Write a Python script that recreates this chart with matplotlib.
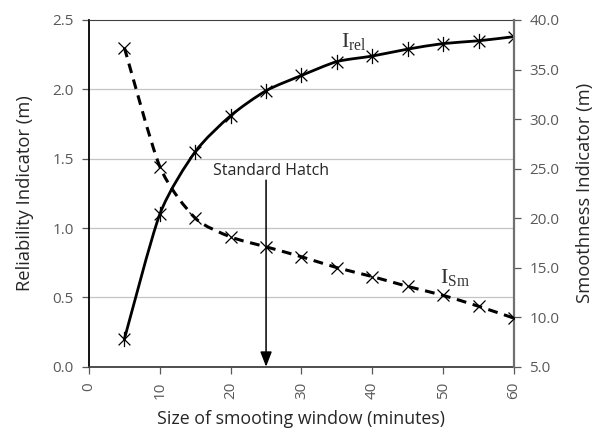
import numpy as np
import matplotlib
matplotlib.use("Agg")
import matplotlib.pyplot as plt
from matplotlib.path import Path
from matplotlib.patches import PathPatch

# Window sizes (minutes)
window = [5, 10, 15, 20, 25, 30, 35, 40, 45, 50, 55, 60]
# Reliability indicator I_rel (m), left axis
i_rel = [0.20, 1.10, 1.55, 1.81, 1.99, 2.10, 2.20, 2.24, 2.29, 2.33, 2.35, 2.38]
# Smoothness indicator I_Sm (m), right axis
i_sm = [37.2, 25.2, 20.0, 18.1, 17.1, 16.1, 15.0, 14.1, 13.1, 12.2, 11.1, 9.9]

x_ticks = [0, 10, 20, 30, 40, 50, 60]
left_ticks = [0.0, 0.5, 1.0, 1.5, 2.0, 2.5]
right_ticks = [5.0, 10.0, 15.0, 20.0, 25.0, 30.0, 35.0, 40.0]
standard_window = 25

FONT = "Open Sans"
TICK_COLOR = "#595959"


def smooth_path(x, y, tension=0.12):
    """Cubic Bezier path through the points (Catmull-Rom style smoothing)."""
    x = np.asarray(x, float)
    y = np.asarray(y, float)
    n = len(x)
    verts = [(x[0], y[0])]
    codes = [Path.MOVETO]
    for i in range(n - 1):
        p0 = np.array([x[max(i - 1, 0)], y[max(i - 1, 0)]])
        p1 = np.array([x[i], y[i]])
        p2 = np.array([x[i + 1], y[i + 1]])
        p3 = np.array([x[min(i + 2, n - 1)], y[min(i + 2, n - 1)]])
        c1 = p1 + (p2 - p0) * tension
        c2 = p2 - (p3 - p1) * tension
        verts += [tuple(c1), tuple(c2), tuple(p2)]
        codes += [Path.CURVE4] * 3
    return Path(verts, codes)


# Asterisk marker: an x with a vertical stroke
star_marker = Path(
    [(-1, -1), (1, 1), (-1, 1), (1, -1), (0, -1.3), (0, 1.3)],
    [Path.MOVETO, Path.LINETO, Path.MOVETO, Path.LINETO, Path.MOVETO, Path.LINETO],
)

fig = plt.figure(figsize=(5.96, 4.30), dpi=100)
ax = fig.add_axes([0.1493, 0.1472, 0.7131, 0.8063])
ax2 = ax.twinx()

ax.set_xlim(0, 60)
ax.set_ylim(0, 2.5)
ax2.set_ylim(5, 40)

# Horizontal gridlines
for v in left_ticks[1:-1]:
    ax.axhline(v, color="#c4c4c4", lw=0.9, zorder=0)

# I_rel: solid smoothed line with asterisk markers
ax.add_patch(PathPatch(smooth_path(window, i_rel), fill=False, lw=2.0,
                       color="black", zorder=3, capstyle="round"))
ax.plot(window, i_rel, ls="none", marker=star_marker, ms=11, mew=0.9,
        color="black", zorder=4)

# I_Sm: dashed smoothed line with x markers
ax2.add_patch(PathPatch(smooth_path(window, i_sm), fill=False, lw=2.2,
                        color="black", ls=(0, (3.2, 2.2)), zorder=3))
ax2.plot(window, i_sm, ls="none", marker="x", ms=9, mew=0.9,
         color="black", zorder=4)

# Series labels
ax.text(35.6, 2.27, r"$\mathregular{I_{rel}}$", family="Liberation Serif",
        fontsize=16, color="#333333", ha="left", va="bottom")
ax2.text(49.6, 12.9, r"$\mathregular{I_{Sm}}$", family="Liberation Serif",
         fontsize=16, color="#333333", ha="left", va="bottom")

# Standard hatch marker
ax.annotate("", xy=(standard_window, 0.0), xytext=(standard_window, 1.345),
            arrowprops=dict(arrowstyle="-|>,head_length=0.9,head_width=0.35",
                            color="black", lw=1.1, shrinkA=0, shrinkB=0),
            zorder=5)
ax.text(standard_window + 0.65, 1.41, "Standard Hatch", family=FONT,
        fontsize=11.5, color="#262626", ha="center", va="center", zorder=5)

# Axes styling
ax.set_xticks(x_ticks)
ax.set_xticklabels([str(t) for t in x_ticks], rotation=90)
ax.set_yticks(left_ticks)
ax.set_yticklabels([f"{t:.1f}" for t in left_ticks])
ax2.set_yticks(right_ticks)
ax2.set_yticklabels([f"{t:.1f}" for t in right_ticks])

for a in (ax, ax2):
    a.tick_params(length=5, width=0.9, color="#595959", labelsize=11,
                  labelcolor=TICK_COLOR, pad=6)
    for lab in a.get_xticklabels() + a.get_yticklabels():
        lab.set_family(FONT)

ax.spines["left"].set_color("black")
ax.spines["bottom"].set_color("#404040")
ax.spines["top"].set_color("#404040")
ax2.spines["right"].set_color("#707070")
ax2.spines["right"].set_linewidth(1.6)
for s in ("left", "bottom", "top"):
    ax2.spines[s].set_visible(False)
ax.spines["right"].set_visible(False)
ax.spines["left"].set_linewidth(1.3)
ax.spines["bottom"].set_linewidth(1.3)

ax.set_xlabel("Size of smooting window (minutes)", family=FONT, fontsize=12.8,
              color="#262626", labelpad=8)
ax.set_ylabel("Reliability Indicator (m)", family=FONT, fontsize=13.2,
              color="#262626", labelpad=13)
ax2.set_ylabel("Smoothness Indicator (m)", family=FONT, fontsize=13.2,
               color="#262626", labelpad=12)

fig.savefig("out.png", dpi=100)
